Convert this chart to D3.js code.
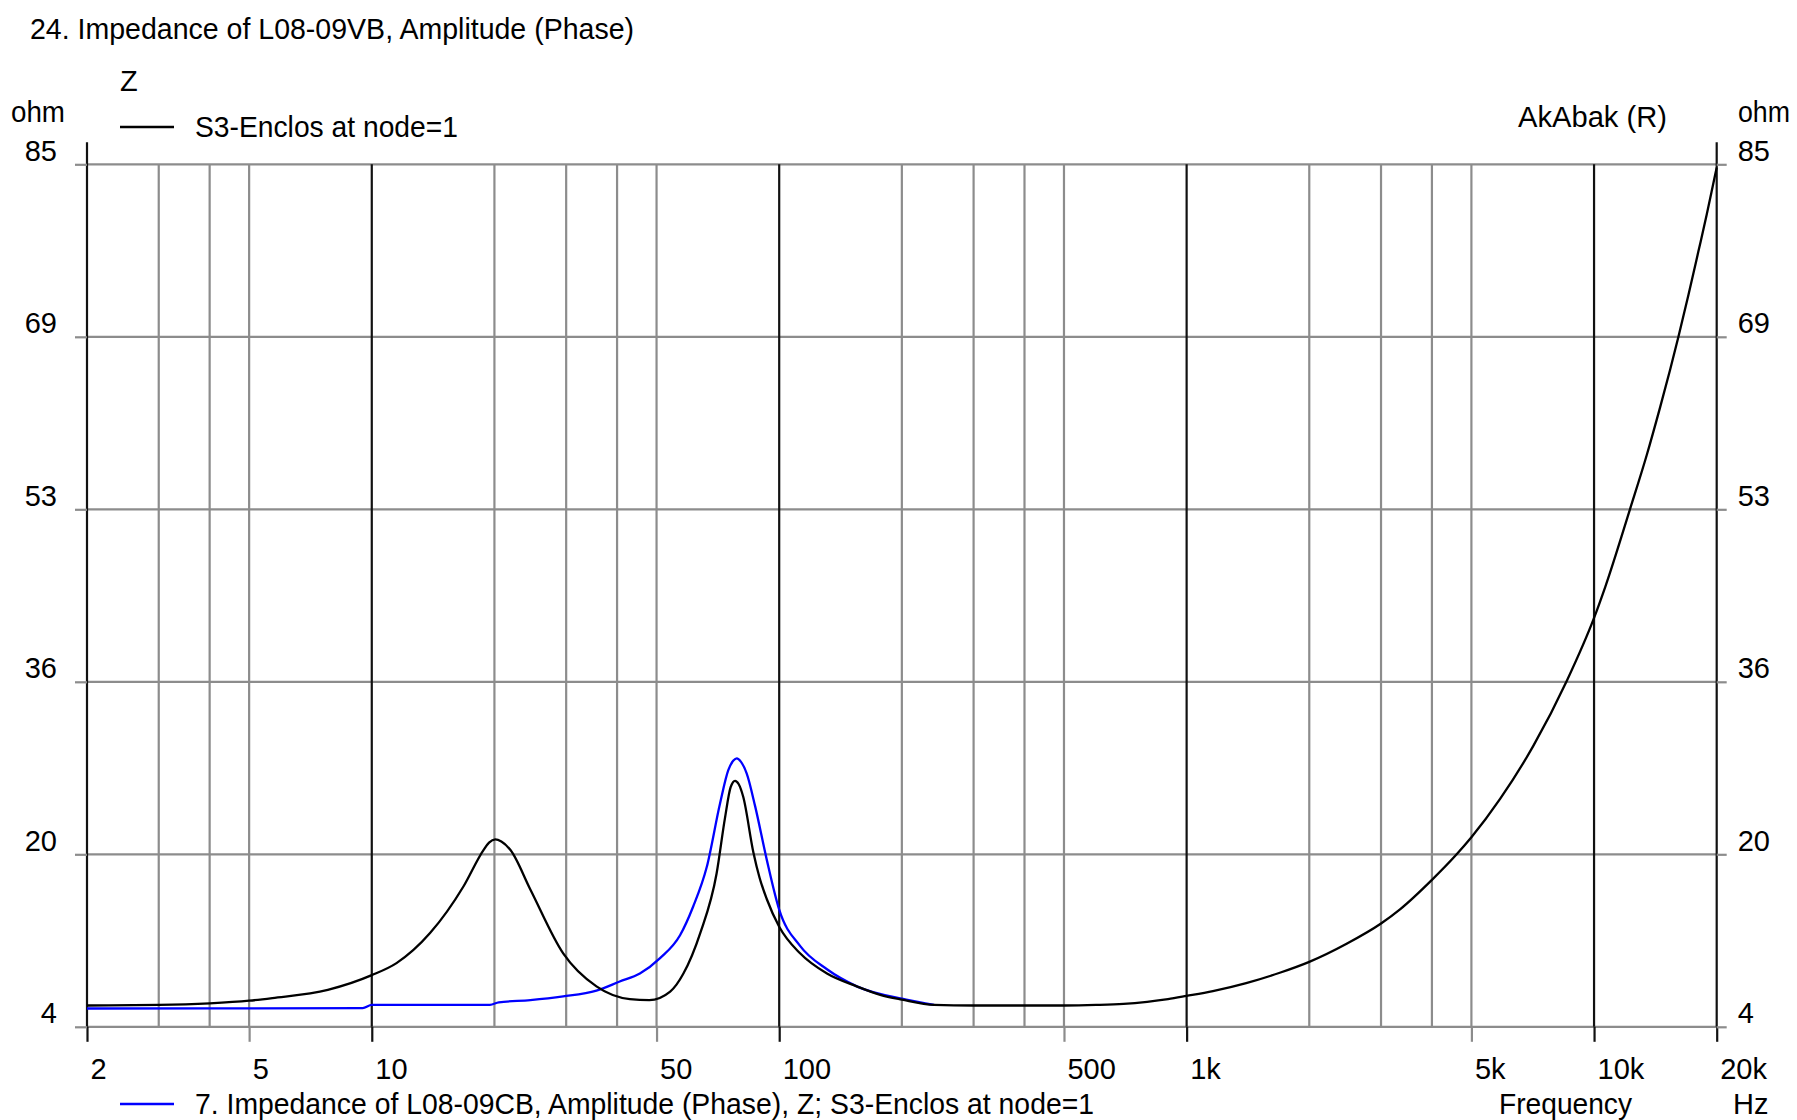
<!DOCTYPE html>
<html>
<head>
<meta charset="utf-8">
<script src="https://cdn.jsdelivr.net/npm/d3@7"></script>
<style>
  html, body { margin: 0; padding: 0; background: #fff; }
  svg { display: block; }
  text { font-family: "Liberation Sans", Arial, sans-serif; font-size: 29px; fill: #000; }
</style>
</head>
<body>
<svg id="chart" width="1797" height="1120"></svg>
<script>
// Impedance magnitude of the vented box (S3-Enclos at node=1), ohm vs Hz
const ventedFreq = [2, 3, 4, 5, 5.7, 7.8, 10, 11.5, 13.9, 16.8, 18.8, 19.4, 20.1, 20.8, 21.9, 24.5, 29.5, 35.6, 43, 48, 54, 58.2, 64, 70.2, 73.6, 76, 77.9, 79.5, 81.6, 86.4, 89.5, 93.2, 100, 112.5, 131, 155, 177, 200, 240, 300, 500, 600, 700, 800, 900, 1000, 1160, 1400, 1700, 2000, 2470, 3000, 3340, 4000, 4600, 5000, 5880, 7100, 8575, 10000, 10650, 12250, 13470, 14530, 15370, 16110, 17040, 18030, 18910, 19820, 20000];
const ventedOhm  = [6.0, 6.05, 6.2, 6.45, 6.7, 7.47, 8.85, 9.98, 12.8, 17.2, 20.6, 21.3, 21.6, 21.4, 20.6, 16.9, 10.9, 7.8, 6.6, 6.5, 7.3, 9.0, 12.8, 18.4, 23.6, 26.5, 27.1, 26.8, 25.6, 20.4, 18.0, 16.0, 13.4, 10.9, 9.0, 7.8, 7.0, 6.55, 6.05, 6.0, 6.0, 6.05, 6.15, 6.35, 6.6, 6.9, 7.35, 8.1, 9.1, 10.1, 11.8, 13.7, 15.03, 17.8, 20.2, 21.8, 25.4, 30.4, 36.5, 42.4, 45.3, 52.6, 57.7, 62.2, 65.7, 68.8, 72.7, 76.8, 80.3, 84.0, 84.7];

// Impedance magnitude of the closed box (L08-09CB), ohm vs Hz
const closedFreq = [2, 9.5, 10, 19.5, 20.5, 24.5, 29.5, 35.6, 40.6, 45.5, 51, 57.1, 61.5, 66.4, 71.6, 75, 77.2, 78.7, 80.5, 83.2, 87.3, 93.2, 100, 112.5, 131, 155, 205, 240];
const closedOhm  = [5.72, 5.75, 6.05, 6.06, 6.3, 6.5, 6.85, 7.4, 8.25, 9.0, 10.45, 12.6, 15.3, 19.0, 25.0, 28.1, 29.0, 29.2, 28.9, 27.8, 24.7, 19.7, 15.0, 11.6, 9.4, 7.8, 6.55, 6.05];

// Axis ticks
const yTicks = [4, 20.2, 36.4, 52.6, 68.8, 85];
const xLabelTicks = [2, 5, 10, 50, 100, 500, 1000, 5000, 10000, 20000];
const xLabelText = ["2", "5", "10", "50", "100", "500", "1k", "5k", "10k", "20k"];
const xMinorGrid = [3, 4, 5, 20, 30, 40, 50, 200, 300, 400, 500, 2000, 3000, 4000, 5000];
const xDecadeGrid = [10, 100, 1000, 10000];

const GRAY = "#8c8c8c";
const FONT = "'Liberation Sans', Arial, sans-serif";
const L = 87, R = 1716.7, T = 164.3, B = 1026.8;

const svg = d3.select("#chart");

const x = d3.scaleLog().domain([2, 20000]).range([L, R]);
const y = d3.scaleLinear().domain([4, 85]).range([B, T]);

// Vertical grid
svg.append("g").selectAll("line").data(xMinorGrid).join("line")
  .attr("x1", d => x(d)).attr("x2", d => x(d))
  .attr("y1", T).attr("y2", B)
  .attr("stroke", GRAY).attr("stroke-width", 2.2);

// Horizontal grid
svg.append("g").selectAll("line").data(yTicks).join("line")
  .attr("x1", L).attr("x2", R)
  .attr("y1", d => y(d)).attr("y2", d => y(d))
  .attr("stroke", GRAY).attr("stroke-width", 2.2);

svg.append("g").selectAll("line").data(xDecadeGrid).join("line")
  .attr("x1", d => x(d)).attr("x2", d => x(d))
  .attr("y1", T).attr("y2", B)
  .attr("stroke", "#111").attr("stroke-width", 2.2);

// Left and right frame lines
svg.append("g").selectAll("line").data([2, 20000]).join("line")
  .attr("x1", d => x(d)).attr("x2", d => x(d))
  .attr("y1", T - 22).attr("y2", B)
  .attr("stroke", "#111").attr("stroke-width", 2.2);

// Bottom axis
const xAxis = d3.axisBottom(x)
  .tickValues(xLabelTicks)
  .tickSize(15)
  .tickSizeOuter(0)
  .tickFormat((d, i) => xLabelText[i]);
const gx = svg.append("g").attr("transform", `translate(0,${B})`).call(xAxis);
gx.select(".domain").remove();
gx.selectAll(".tick line")
  .attr("stroke", d => (xDecadeGrid.includes(d) || d === 2 || d === 20000) ? "#111" : GRAY)
  .attr("stroke-width", 2.2);
gx.selectAll(".tick text")
  .attr("text-anchor", "start")
  .attr("x", 3).attr("y", 52).attr("dy", 0)
  .style("font-family", FONT).style("font-size", "29px").attr("fill", "#000");

// Left axis
const yAxisL = d3.axisLeft(y).tickValues(yTicks).tickSize(12).tickSizeOuter(0).tickFormat(d3.format(".0f"));
const gyl = svg.append("g").attr("transform", `translate(${L},0)`).call(yAxisL);
gyl.select(".domain").remove();
gyl.selectAll(".tick line").attr("stroke", GRAY).attr("stroke-width", 2.2);
gyl.selectAll(".tick text")
  .attr("x", -30).attr("y", -4).attr("dy", 0).attr("text-anchor", "end")
  .style("font-family", FONT).style("font-size", "29px").attr("fill", "#000");

// Right axis
const yAxisR = d3.axisRight(y).tickValues(yTicks).tickSize(10).tickSizeOuter(0).tickFormat(d3.format(".0f"));
const gyr = svg.append("g").attr("transform", `translate(${R},0)`).call(yAxisR);
gyr.select(".domain").remove();
gyr.selectAll(".tick line").attr("stroke", GRAY).attr("stroke-width", 2.2);
gyr.selectAll(".tick text")
  .attr("x", 21).attr("y", -4).attr("dy", 0).attr("text-anchor", "start")
  .style("font-family", FONT).style("font-size", "29px").attr("fill", "#000");

// Curves
const line = d3.line().x(d => x(d[0])).y(d => y(d[1])).curve(d3.curveMonotoneX);
const closedPts = closedFreq.map((f, i) => [f, closedOhm[i]]);
const ventedPts = ventedFreq.map((f, i) => [f, ventedOhm[i]]);

svg.append("path").datum(closedPts).attr("d", line)
  .attr("fill", "none").attr("stroke", "#0000ff").attr("stroke-width", 2.3);
svg.append("path").datum(ventedPts).attr("d", line)
  .attr("fill", "none").attr("stroke", "#000").attr("stroke-width", 2.3);

// Titles and labels
svg.append("text").attr("x", 30).attr("y", 39)
  .attr("textLength", 604).attr("lengthAdjust", "spacingAndGlyphs")
  .text("24. Impedance of L08-09VB, Amplitude (Phase)");
svg.append("text").attr("x", 120).attr("y", 91).text("Z");
svg.append("text").attr("x", 11).attr("y", 122)
  .attr("textLength", 54).attr("lengthAdjust", "spacingAndGlyphs").text("ohm");
svg.append("text").attr("x", 1738).attr("y", 122)
  .attr("textLength", 52).attr("lengthAdjust", "spacingAndGlyphs").text("ohm");
svg.append("text").attr("x", 1518).attr("y", 127)
  .attr("textLength", 149).attr("lengthAdjust", "spacingAndGlyphs")
  .text("AkAbak (R)");

// Legend entries
svg.append("line").attr("x1", 120).attr("x2", 174).attr("y1", 127).attr("y2", 127)
  .attr("stroke", "#000").attr("stroke-width", 2.3);
svg.append("text").attr("x", 195).attr("y", 137)
  .attr("textLength", 263).attr("lengthAdjust", "spacingAndGlyphs")
  .text("S3-Enclos at node=1");

svg.append("line").attr("x1", 120).attr("x2", 174).attr("y1", 1104).attr("y2", 1104)
  .attr("stroke", "#0000ff").attr("stroke-width", 2.3);
svg.append("text").attr("x", 195).attr("y", 1114)
  .attr("textLength", 899).attr("lengthAdjust", "spacingAndGlyphs")
  .text("7. Impedance of L08-09CB, Amplitude (Phase), Z; S3-Enclos at node=1");

svg.append("text").attr("x", 1499).attr("y", 1114)
  .attr("textLength", 133).attr("lengthAdjust", "spacingAndGlyphs")
  .text("Frequency");
svg.append("text").attr("x", 1733).attr("y", 1114).text("Hz");
</script>
</body>
</html>
